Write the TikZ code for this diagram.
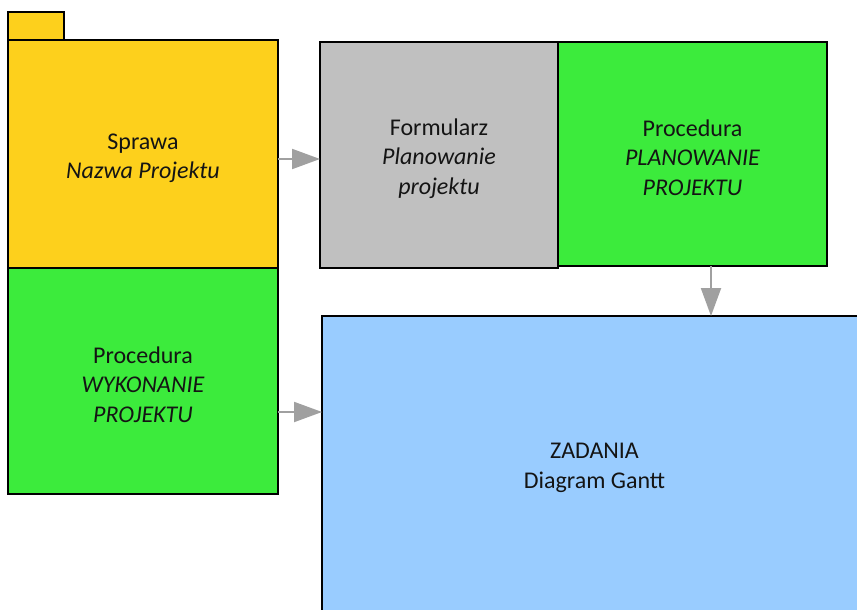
\documentclass[tikz,border=0pt]{standalone}
\usepackage{fontspec}
\setmainfont{Carlito}
\usetikzlibrary{arrows.meta}
\definecolor{cYellow}{RGB}{253,208,28}
\definecolor{cGreen}{RGB}{60,235,60}
\definecolor{cGrey}{RGB}{192,192,192}
\definecolor{cBlue}{RGB}{153,204,255}
\definecolor{cArrow}{RGB}{160,160,160}
\newcommand\mytopstrut{\rule{0pt}{24pt}}
\tikzset{
  box/.style={draw=black, line width=1.5pt, rectangle, inner sep=0pt, outer sep=0pt,
    align=center, font=\fontsize{24}{29.5}\selectfont, text=black!92},
  txt/.style={inner sep=0pt, align=center, font=\fontsize{24}{29.5}\selectfont, text=black!92},
  arr/.style={draw=cArrow, line width=2pt, -{Triangle[length=28pt,width=20pt]}}
}
\begin{document}
\begin{tikzpicture}[x=1pt,y=-1pt]
\useasboundingbox (0,0) rectangle (857,610);
\clip (0,0) rectangle (857,610);
\fill[white] (0,0) rectangle (857,610);
% ZADANIA (extends beyond the frame)
\node[box, fill=cBlue, minimum width=558pt, minimum height=324pt] (zad) at (601,478) {};
\node[txt] (zadtxt) at (594.5,468) {ZADANIA\\Diagram Gantt};
% tab
\node[box, fill=cYellow, minimum width=56pt, minimum height=28pt] (tab) at (36,26) {};
% Sprawa
\node[box, fill=cYellow, minimum width=270pt, minimum height=228pt] (sprawa) at (143,154)
  {\mytopstrut Sprawa\\\textit{Nazwa Projektu}};
% Procedura WYKONANIE
\node[box, fill=cGreen, minimum width=270pt, minimum height=226pt] (wyk) at (143,381)
  {\mytopstrut Procedura\\\textit{WYKONANIE}\\\textit{PROJEKTU}};
% Formularz
\node[box, fill=cGrey, minimum width=238pt, minimum height=226pt] (form) at (439,155)
  {\mytopstrut Formularz\\\textit{Planowanie}\\\textit{projektu}};
% Procedura PLANOWANIE
\node[box, fill=cGreen, minimum width=269pt, minimum height=224pt] (plan) at (692.5,154)
  {\mytopstrut Procedura\\\textit{PLANOWANIE}\\\textit{PROJEKTU}};
% arrows
\coordinate (y1) at (0,159);
\coordinate (y3) at (0,412);
\coordinate (x2) at (711,0);
\draw[arr] (sprawa.east |- y1) -- (form.west |- y1);
\draw[arr] (wyk.east |- y3) -- (zad.west |- y3);
\draw[arr] (plan.south -| x2) -- (zad.north -| x2);
\end{tikzpicture}
\end{document}
